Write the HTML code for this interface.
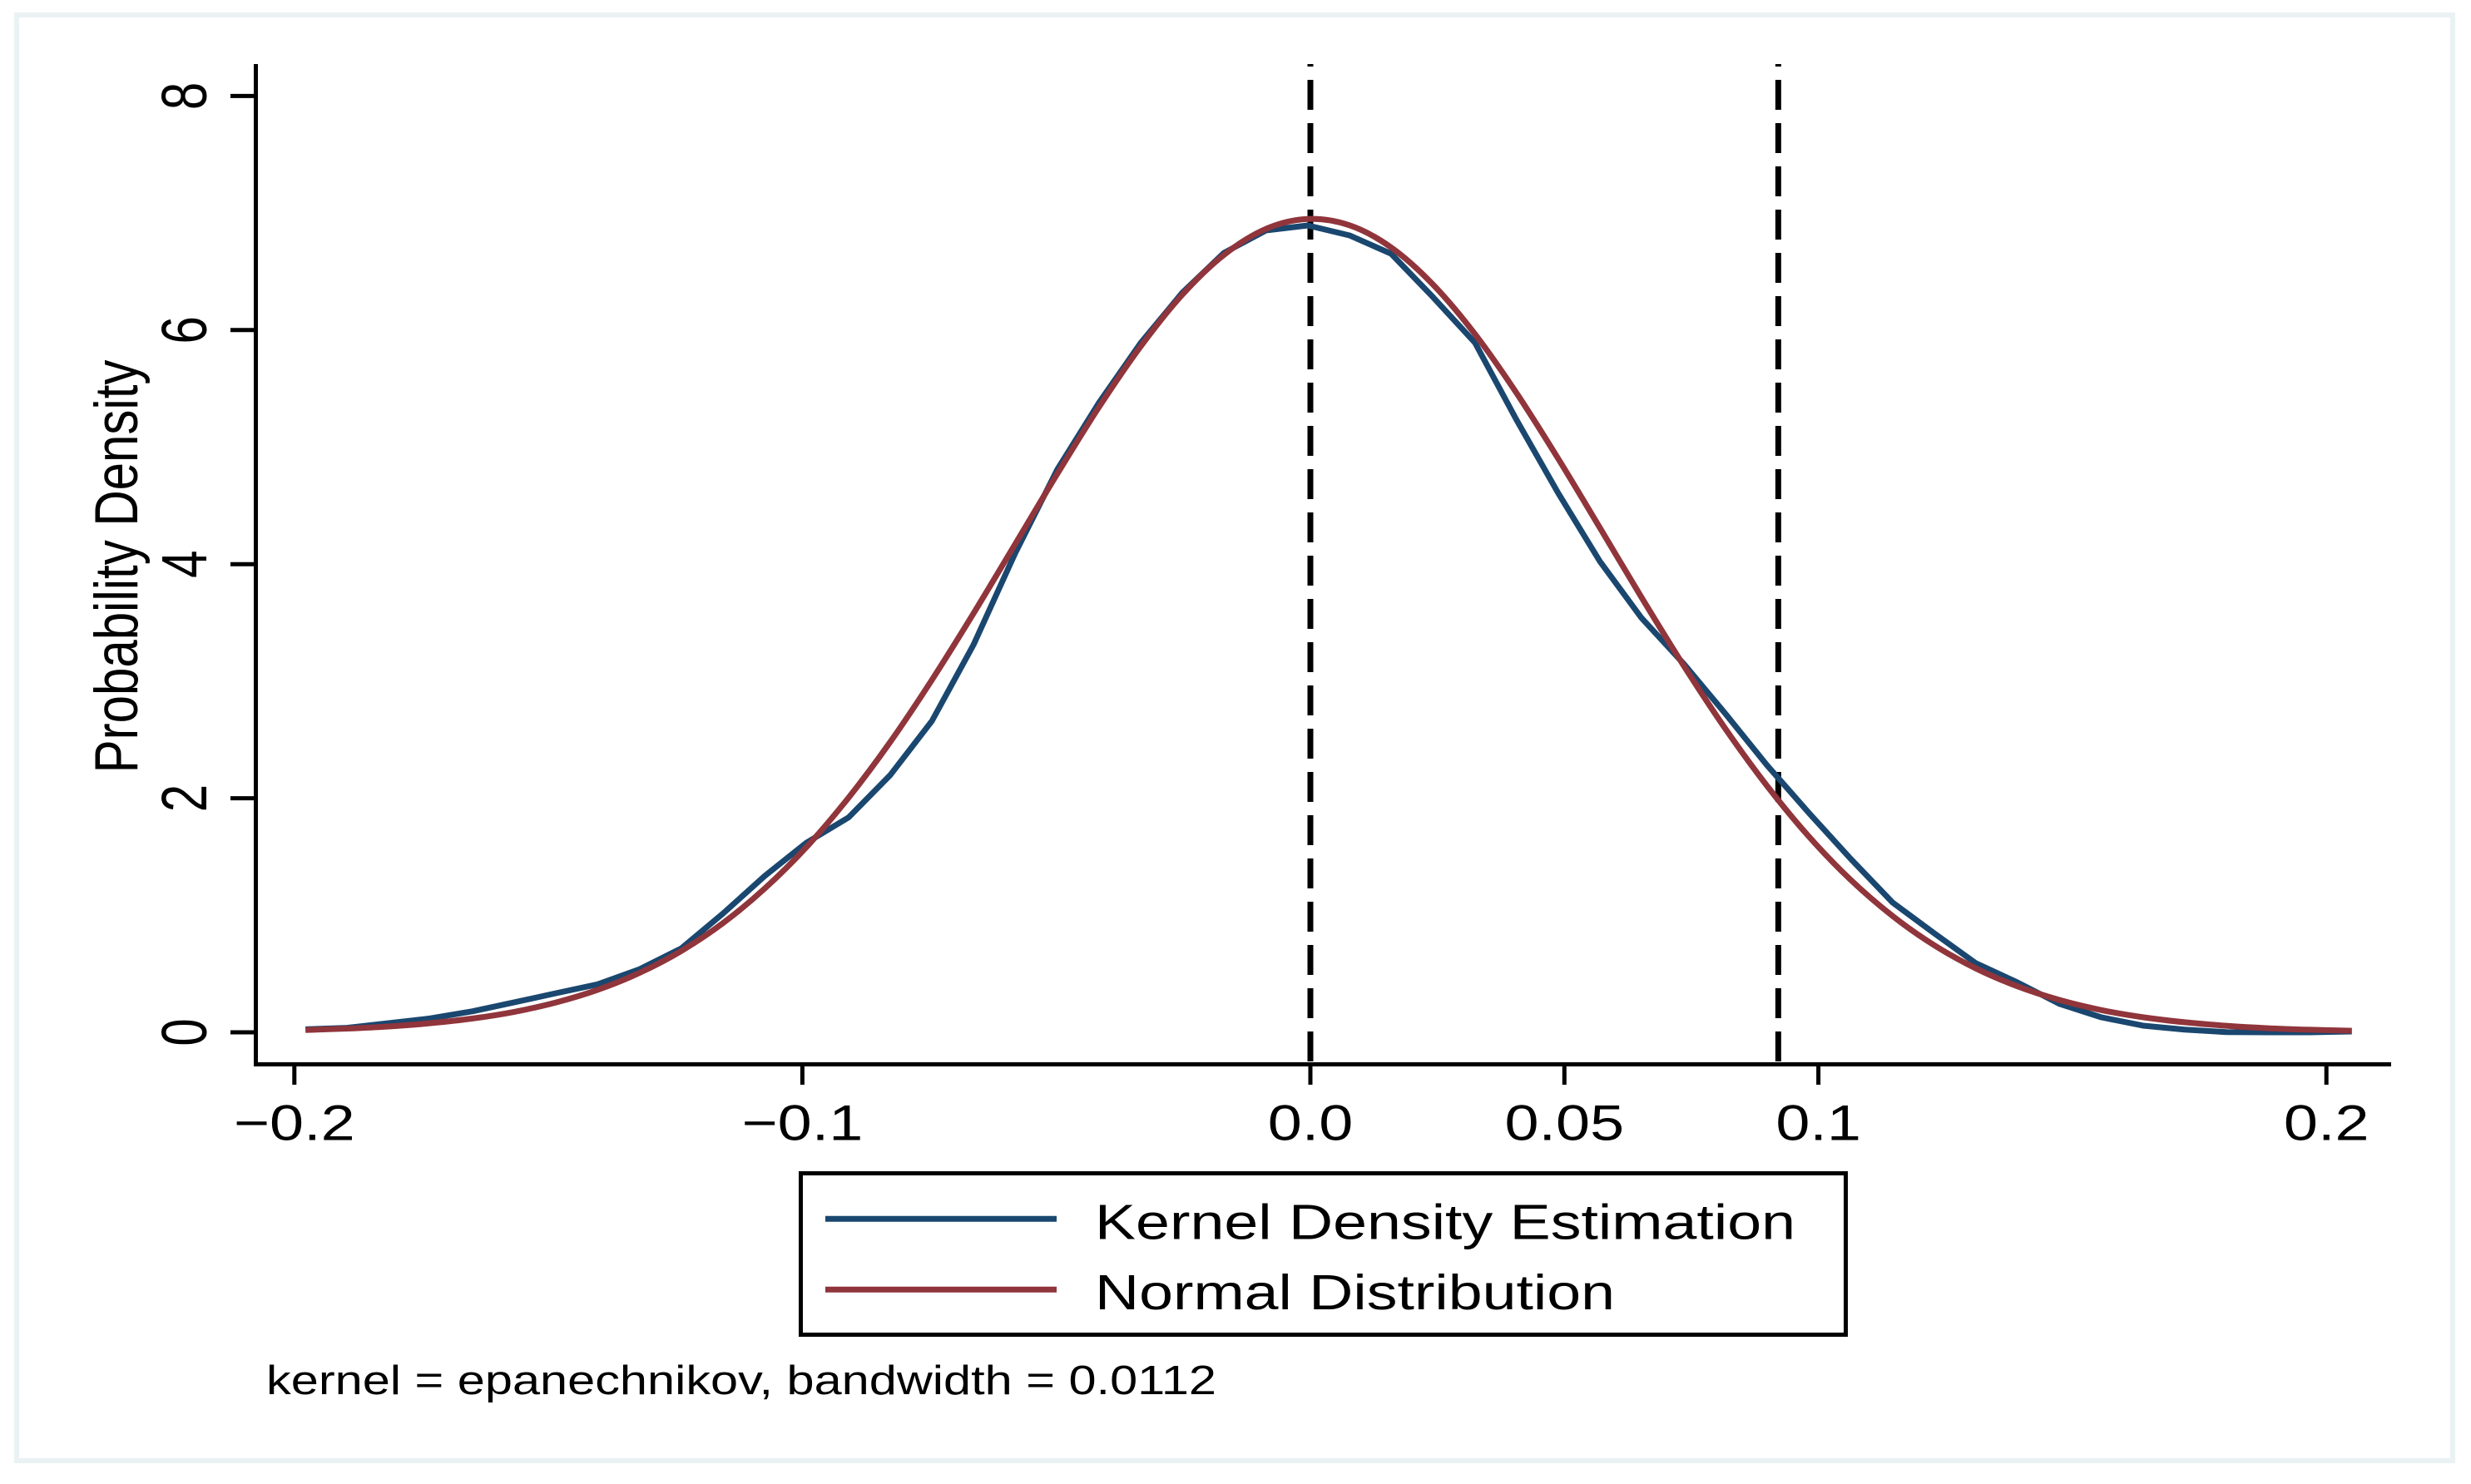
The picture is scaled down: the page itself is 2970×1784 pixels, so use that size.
<!DOCTYPE html>
<html lang="en">
<head>
<meta charset="utf-8">
<title>Kernel density vs normal distribution</title>
<style>
  html, body { margin: 0; padding: 0; background: #ffffff; }
  svg { display: block; }
  text { font-family: "Liberation Sans", Arial, sans-serif; fill: #000000; }
</style>
</head>
<body>
<svg id="chart" xmlns="http://www.w3.org/2000/svg" width="2970" height="1784" viewBox="0 0 2970 1784">
  <rect x="0" y="0" width="2970" height="1784" fill="#ffffff"/>
  <rect x="20" y="18" width="2928" height="1738" fill="none" stroke="#eaf2f3" stroke-width="6"/>
  <g id="reference-lines"></g>
  <g id="series"></g>
  <line x1="307.5" y1="77" x2="307.5" y2="1282" stroke="#000" stroke-width="5"/>
  <line x1="305" y1="1279.5" x2="2874" y2="1279.5" stroke="#000" stroke-width="5"/>
  <g id="y-ticks"></g>
  <g id="x-ticks"></g>
  <text transform="translate(165,681) scale(1.22,1) rotate(-90)" font-size="60" text-anchor="middle">Probability Density</text>
  <g>
    <rect x="962.5" y="1410.5" width="1256" height="194" fill="#ffffff" stroke="#000" stroke-width="5"/>
    <line x1="992" y1="1465.3" x2="1270" y2="1465.3" stroke="#1a476f" stroke-width="7"/>
    <text x="1316" y="1489.3" font-size="59.5" textLength="842" lengthAdjust="spacingAndGlyphs">Kernel Density Estimation</text>
    <line x1="992" y1="1550.3" x2="1270" y2="1550.3" stroke="#90353b" stroke-width="7"/>
    <text x="1316" y="1574" font-size="59.5" textLength="625" lengthAdjust="spacingAndGlyphs">Normal Distribution</text>
  </g>
  <text x="320" y="1676" font-size="49" textLength="1142" lengthAdjust="spacingAndGlyphs">kernel = epanechnikov, bandwidth = 0.0112</text>
</svg>
<script>
const gridX = [-0.1978,-0.1896,-0.1814,-0.1732,-0.1649,-0.1567,-0.1485,-0.1403,-0.1320,-0.1238,-0.1156,-0.1074,-0.0992,-0.0909,-0.0827,-0.0745,-0.0663,-0.0581,-0.0498,-0.0416,-0.0334,-0.0252,-0.0170,-0.0087,-0.0005,0.0077,0.0159,0.0241,0.0324,0.0406,0.0488,0.0570,0.0652,0.0735,0.0817,0.0899,0.0981,0.1063,0.1146,0.1228,0.1310,0.1392,0.1474,0.1557,0.1639,0.1721,0.1803,0.1885,0.1968,0.2050];
const kdeValues = [0.026,0.038,0.078,0.119,0.180,0.256,0.334,0.410,0.540,0.718,1.016,1.336,1.620,1.836,2.198,2.660,3.312,4.094,4.810,5.380,5.890,6.320,6.660,6.852,6.894,6.809,6.652,6.283,5.892,5.231,4.606,4.023,3.539,3.149,2.722,2.281,1.876,1.485,1.109,0.846,0.590,0.426,0.244,0.128,0.057,0.023,0.002,0,0,0.007];
const normalValues = [0.020,0.032,0.050,0.078,0.118,0.175,0.255,0.363,0.509,0.696,0.934,1.229,1.582,2.005,2.481,3.011,3.580,4.172,4.773,5.343,5.861,6.303,6.643,6.865,6.949,6.895,6.706,6.391,5.966,5.461,4.900,4.310,3.715,3.132,2.593,2.105,1.674,1.305,0.994,0.744,0.546,0.393,0.277,0.190,0.129,0.086,0.056,0.035,0.022,0.013];
const xTickValues = [-0.2,-0.1,0,0.05,0.1,0.2];
const xTickLabels = ["\u22120.2","\u22120.1","0.0","0.05","0.1","0.2"];
const yTickValues = [0,2,4,6,8];
const yTickLabels = ["0","2","4","6","8"];
const referenceValues = [0,0.0921];

const SVG_NS = "http://www.w3.org/2000/svg";
function xScale(v) { return 1575 + v * 6106; }
function yScale(v) { return 1241 - v * 140.7; }
function make(tag, attrs, parent) {
  const el = document.createElementNS(SVG_NS, tag);
  for (const k in attrs) el.setAttribute(k, attrs[k]);
  parent.appendChild(el);
  return el;
}

const refGroup = document.getElementById("reference-lines");
referenceValues.forEach(function (v) {
  const ln = make("line", { x1: xScale(v), x2: xScale(v), y1: 77, y2: 1279, stroke: "#000", "stroke-width": 7, "stroke-dasharray": "36 16", "stroke-dashoffset": 33 }, refGroup);
  
  
});

const seriesGroup = document.getElementById("series");
function linePath(values) {
  return values.map(function (v, i) {
    return (i ? "L" : "M") + xScale(gridX[i]).toFixed(2) + " " + yScale(v).toFixed(2);
  }).join(" ");
}
function smoothPath(values) {
  const p = values.map(function (v, i) { return [xScale(gridX[i]), yScale(v)]; });
  let d = "M" + p[0][0].toFixed(2) + " " + p[0][1].toFixed(2);
  for (let i = 0; i < p.length - 1; i++) {
    const a = p[Math.max(0, i - 1)], b = p[i], c = p[i + 1], e = p[Math.min(p.length - 1, i + 2)];
    d += " C" + (b[0] + (c[0] - a[0]) / 6).toFixed(2) + " " + (b[1] + (c[1] - a[1]) / 6).toFixed(2) + " " +
         (c[0] - (e[0] - b[0]) / 6).toFixed(2) + " " + (c[1] - (e[1] - b[1]) / 6).toFixed(2) + " " +
         c[0].toFixed(2) + " " + c[1].toFixed(2);
  }
  return d;
}
const kdeLine = make("path", { d: linePath(kdeValues), fill: "none", stroke: "#1a476f", "stroke-width": 7, "stroke-linejoin": "round" }, seriesGroup);


const normalLine = make("path", { d: smoothPath(normalValues), fill: "none", stroke: "#90353b", "stroke-width": 7, "stroke-linejoin": "round" }, seriesGroup);



const yTicks = document.getElementById("y-ticks");
yTickValues.forEach(function (v, i) {
  const y = yScale(v);
  const t = make("line", { x1: 277, x2: 305, y1: y, y2: y, stroke: "#000", "stroke-width": 5 }, yTicks);
  
  
  const lab = make("text", { transform: "translate(248," + y + ") scale(1.28,1) rotate(-90)", "font-size": 60, "text-anchor": "middle" }, yTicks);
  lab.textContent = yTickLabels[i];
  
  
});

const xTicks = document.getElementById("x-ticks");
xTickValues.forEach(function (v, i) {
  const x = xScale(v);
  const t = make("line", { x1: x, x2: x, y1: 1282, y2: 1304, stroke: "#000", "stroke-width": 5 }, xTicks);
  
  
  const lab = make("text", { transform: "translate(" + x + ",1370.5) scale(1.22,1)", "font-size": 60.5, "text-anchor": "middle" }, xTicks);
  lab.textContent = xTickLabels[i];
  
  
});
</script>
</body>
</html>
